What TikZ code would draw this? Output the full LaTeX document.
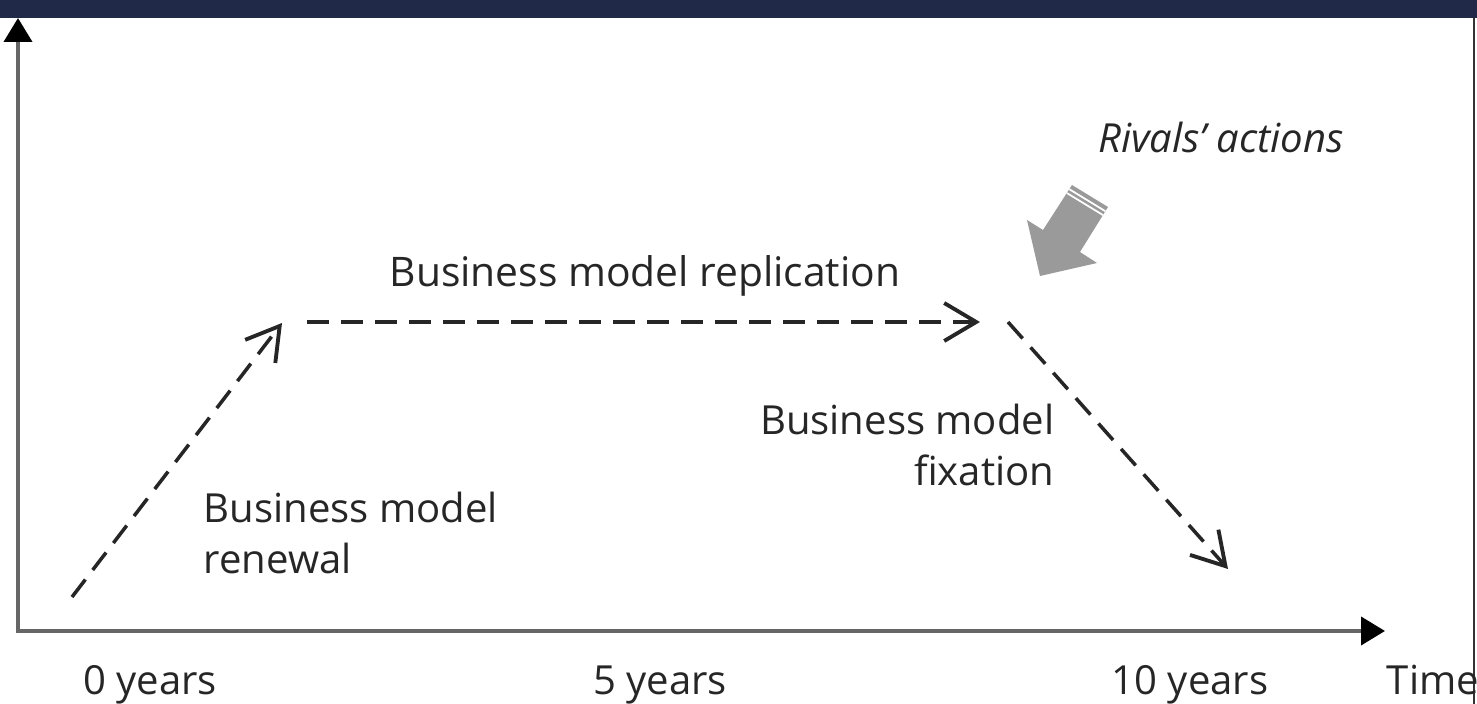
\documentclass[tikz,border=0pt]{standalone}
\usepackage{fontspec}
\setmainfont{Open Sans}
\usepackage{tikz}
\usetikzlibrary{calc,arrows.meta}
\usepackage{xcolor}
\definecolor{bandblue}{HTML}{202A48}
\definecolor{axisgrey}{HTML}{666666}
\definecolor{rivalgrey}{HTML}{9A9A9A}

\begin{document}
\begin{tikzpicture}[
    every node/.style={font=\fontsize{11.4}{14.5}\selectfont, text=black!85, inner sep=0pt},
    axis/.style={axisgrey, line width=1.1pt,
        {Triangle[length=2.4mm,width=2.8mm,color=black]}-{Triangle[length=2.4mm,width=2.8mm,color=black]}},
    move/.style={black!85, line width=1pt, dash pattern=on 2.2mm off 1.2mm,
        -{Straight Barb[length=3.2mm,width=3.8mm,line width=1.1pt]}}]
    \useasboundingbox (0,0) rectangle (14.77,7.04);
    \fill[bandblue] (0,6.86) rectangle (14.77,7.04);
    \draw[black!80, line width=0.6pt] (14.74,0) -- (14.74,6.86);

    % axes
    \coordinate (O) at (0.18,0.73);
    \coordinate (Y) at (0.18,6.86);
    \coordinate (X) at (13.85,0.73);
    \draw[axis] (Y) -- (O) -- (X);

    % the three phases
    \coordinate (R0) at (0.72,1.07);
    \coordinate (R1) at (2.82,3.81);
    \coordinate (P0) at (3.07,3.82);
    \coordinate (P1) at (9.80,3.82);
    \coordinate (F0) at (10.08,3.82);
    \coordinate (F1) at (12.28,1.35);
    \draw[move] (R0) -- (R1);
    \draw[move] (P0) -- (P1);
    \draw[move] (F0) -- (F1);

    \node[anchor=north west, align=left] (renewal) at (2.03,2.13) {Business model\\renewal};
    \node[anchor=base, font=\fontsize{11.6}{14.5}\selectfont] (replication) at (6.45,4.17) {Business model replication};
    \node[anchor=north east, align=right] (fixation) at (10.55,3.01) {Business model\\fixation};

    % rivals push down
    \fill[rivalgrey] (10.40,4.28) -- (10.27,4.84) -- (10.43,4.74) -- (10.72,5.19)
        -- (11.08,4.97) -- (10.80,4.52) -- (10.97,4.41) -- cycle;
    \draw[white, line width=0.5pt] (10.693,5.148) -- (11.053,4.928);
    \draw[white, line width=0.5pt] (10.670,5.109) -- (11.030,4.889);
    \node[anchor=base, font=\fontsize{11.4}{14.5}\selectfont\itshape] (rivals) at (12.21,5.51) {Rivals’ actions};

    % time scale
    \node[anchor=base] (t0) at (1.50,0.09) {0 years};
    \node[anchor=base] (t5) at (6.60,0.09) {5 years};
    \node[anchor=base] (t10) at (11.90,0.09) {10 years};
    \node[anchor=base] (time) at (14.33,0.09) {Time};
\end{tikzpicture}
\end{document}
